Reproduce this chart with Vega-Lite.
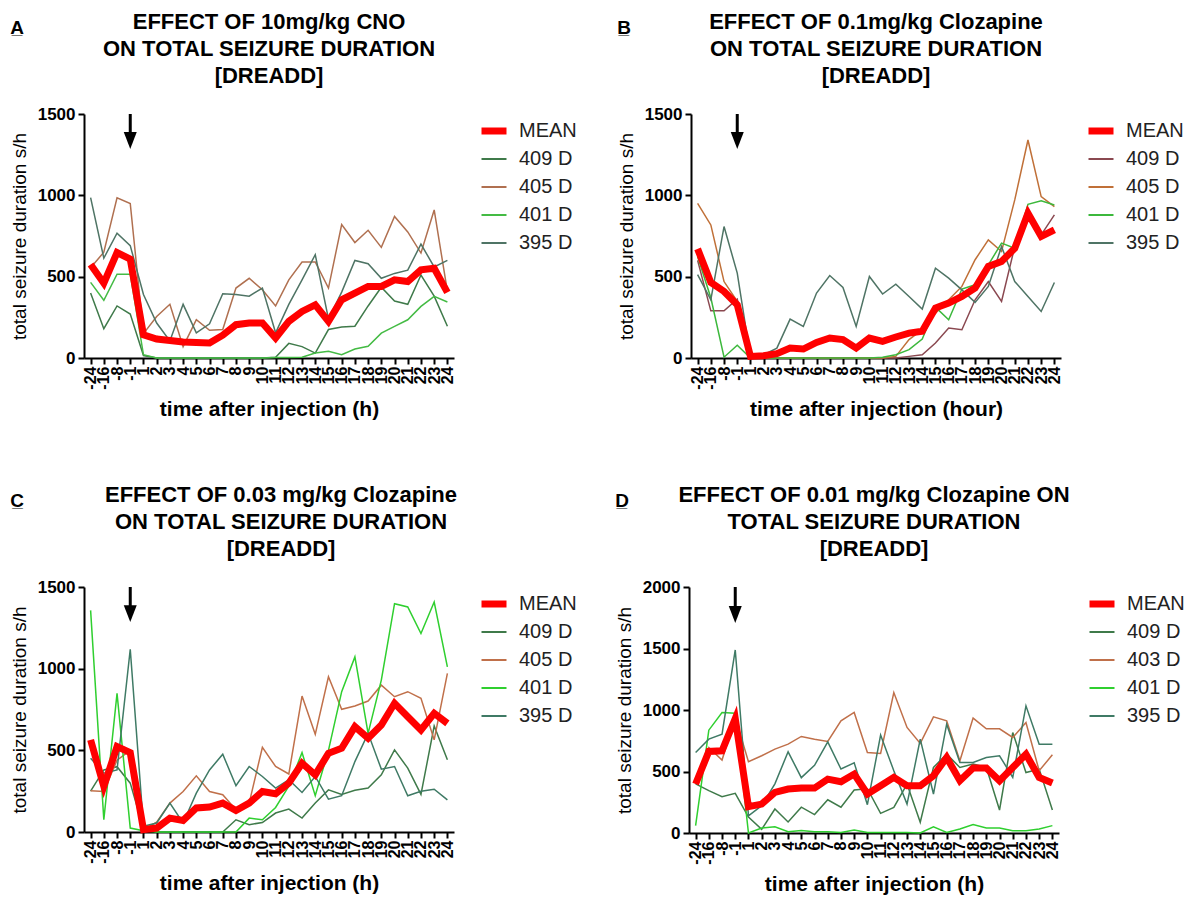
{
"$schema": "https://vega.github.io/schema/vega-lite/v6.json",
"background": "white",
"padding": {"left": 10, "top": 11, "right": 0, "bottom": 5},
"datasets": {
"A": [
{"t":"-24","s":"MEAN","v":575},{"t":"-16","s":"MEAN","v":460},{"t":"-8","s":"MEAN","v":648},{"t":"-1","s":"MEAN","v":608},{"t":"1","s":"MEAN","v":143},{"t":"2","s":"MEAN","v":117},{"t":"3","s":"MEAN","v":108},{"t":"4","s":"MEAN","v":98},{"t":"5","s":"MEAN","v":96},{"t":"6","s":"MEAN","v":92},{"t":"7","s":"MEAN","v":140},{"t":"8","s":"MEAN","v":205},{"t":"9","s":"MEAN","v":215},{"t":"10","s":"MEAN","v":215},{"t":"11","s":"MEAN","v":123},{"t":"12","s":"MEAN","v":225},{"t":"13","s":"MEAN","v":286},{"t":"14","s":"MEAN","v":327},{"t":"15","s":"MEAN","v":225},{"t":"16","s":"MEAN","v":358},{"t":"17","s":"MEAN","v":399},{"t":"18","s":"MEAN","v":440},{"t":"19","s":"MEAN","v":440},{"t":"20","s":"MEAN","v":481},{"t":"21","s":"MEAN","v":470},{"t":"22","s":"MEAN","v":542},{"t":"23","s":"MEAN","v":552},{"t":"24","s":"MEAN","v":403},
{"t":"-24","s":"409 D","v":400},{"t":"-16","s":"409 D","v":180},{"t":"-8","s":"409 D","v":320},{"t":"-1","s":"409 D","v":270},{"t":"1","s":"409 D","v":15},{"t":"2","s":"409 D","v":0},{"t":"3","s":"409 D","v":0},{"t":"4","s":"409 D","v":0},{"t":"5","s":"409 D","v":0},{"t":"6","s":"409 D","v":0},{"t":"7","s":"409 D","v":0},{"t":"8","s":"409 D","v":0},{"t":"9","s":"409 D","v":0},{"t":"10","s":"409 D","v":0},{"t":"11","s":"409 D","v":5},{"t":"12","s":"409 D","v":90},{"t":"13","s":"409 D","v":70},{"t":"14","s":"409 D","v":30},{"t":"15","s":"409 D","v":175},{"t":"16","s":"409 D","v":190},{"t":"17","s":"409 D","v":195},{"t":"18","s":"409 D","v":320},{"t":"19","s":"409 D","v":435},{"t":"20","s":"409 D","v":350},{"t":"21","s":"409 D","v":330},{"t":"22","s":"409 D","v":510},{"t":"23","s":"409 D","v":380},{"t":"24","s":"409 D","v":195},
{"t":"-24","s":"405 D","v":555},{"t":"-16","s":"405 D","v":650},{"t":"-8","s":"405 D","v":985},{"t":"-1","s":"405 D","v":950},{"t":"1","s":"405 D","v":150},{"t":"2","s":"405 D","v":255},{"t":"3","s":"405 D","v":330},{"t":"4","s":"405 D","v":70},{"t":"5","s":"405 D","v":235},{"t":"6","s":"405 D","v":170},{"t":"7","s":"405 D","v":175},{"t":"8","s":"405 D","v":430},{"t":"9","s":"405 D","v":490},{"t":"10","s":"405 D","v":420},{"t":"11","s":"405 D","v":320},{"t":"12","s":"405 D","v":480},{"t":"13","s":"405 D","v":590},{"t":"14","s":"405 D","v":590},{"t":"15","s":"405 D","v":430},{"t":"16","s":"405 D","v":820},{"t":"17","s":"405 D","v":710},{"t":"18","s":"405 D","v":785},{"t":"19","s":"405 D","v":680},{"t":"20","s":"405 D","v":870},{"t":"21","s":"405 D","v":775},{"t":"22","s":"405 D","v":645},{"t":"23","s":"405 D","v":910},{"t":"24","s":"405 D","v":410},
{"t":"-24","s":"401 D","v":465},{"t":"-16","s":"401 D","v":355},{"t":"-8","s":"401 D","v":515},{"t":"-1","s":"401 D","v":515},{"t":"1","s":"401 D","v":20},{"t":"2","s":"401 D","v":0},{"t":"3","s":"401 D","v":0},{"t":"4","s":"401 D","v":0},{"t":"5","s":"401 D","v":0},{"t":"6","s":"401 D","v":0},{"t":"7","s":"401 D","v":0},{"t":"8","s":"401 D","v":0},{"t":"9","s":"401 D","v":0},{"t":"10","s":"401 D","v":0},{"t":"11","s":"401 D","v":3},{"t":"12","s":"401 D","v":3},{"t":"13","s":"401 D","v":5},{"t":"14","s":"401 D","v":31},{"t":"15","s":"401 D","v":41},{"t":"16","s":"401 D","v":20},{"t":"17","s":"401 D","v":55},{"t":"18","s":"401 D","v":72},{"t":"19","s":"401 D","v":153},{"t":"20","s":"401 D","v":194},{"t":"21","s":"401 D","v":235},{"t":"22","s":"401 D","v":317},{"t":"23","s":"401 D","v":379},{"t":"24","s":"401 D","v":344},
{"t":"-24","s":"395 D","v":986},{"t":"-16","s":"395 D","v":614},{"t":"-8","s":"395 D","v":767},{"t":"-1","s":"395 D","v":691},{"t":"1","s":"395 D","v":390},{"t":"2","s":"395 D","v":215},{"t":"3","s":"395 D","v":105},{"t":"4","s":"395 D","v":330},{"t":"5","s":"395 D","v":155},{"t":"6","s":"395 D","v":210},{"t":"7","s":"395 D","v":395},{"t":"8","s":"395 D","v":390},{"t":"9","s":"395 D","v":380},{"t":"10","s":"395 D","v":430},{"t":"11","s":"395 D","v":155},{"t":"12","s":"395 D","v":330},{"t":"13","s":"395 D","v":480},{"t":"14","s":"395 D","v":635},{"t":"15","s":"395 D","v":240},{"t":"16","s":"395 D","v":405},{"t":"17","s":"395 D","v":600},{"t":"18","s":"395 D","v":580},{"t":"19","s":"395 D","v":490},{"t":"20","s":"395 D","v":520},{"t":"21","s":"395 D","v":540},{"t":"22","s":"395 D","v":700},{"t":"23","s":"395 D","v":560},{"t":"24","s":"395 D","v":600}
],
"B": [
{"t":"-24","s":"MEAN","v":671},{"t":"-16","s":"MEAN","v":464},{"t":"-8","s":"MEAN","v":409},{"t":"-1","s":"MEAN","v":327},{"t":"1","s":"MEAN","v":10},{"t":"2","s":"MEAN","v":14},{"t":"3","s":"MEAN","v":27},{"t":"4","s":"MEAN","v":61},{"t":"5","s":"MEAN","v":55},{"t":"6","s":"MEAN","v":96},{"t":"7","s":"MEAN","v":123},{"t":"8","s":"MEAN","v":113},{"t":"9","s":"MEAN","v":61},{"t":"10","s":"MEAN","v":123},{"t":"11","s":"MEAN","v":102},{"t":"12","s":"MEAN","v":129},{"t":"13","s":"MEAN","v":153},{"t":"14","s":"MEAN","v":164},{"t":"15","s":"MEAN","v":307},{"t":"16","s":"MEAN","v":338},{"t":"17","s":"MEAN","v":378},{"t":"18","s":"MEAN","v":430},{"t":"19","s":"MEAN","v":563},{"t":"20","s":"MEAN","v":593},{"t":"21","s":"MEAN","v":675},{"t":"22","s":"MEAN","v":890},{"t":"23","s":"MEAN","v":747},{"t":"24","s":"MEAN","v":788},
{"t":"-24","s":"409 D","v":600},{"t":"-16","s":"409 D","v":290},{"t":"-8","s":"409 D","v":290},{"t":"-1","s":"409 D","v":362},{"t":"1","s":"409 D","v":0},{"t":"2","s":"409 D","v":0},{"t":"3","s":"409 D","v":0},{"t":"4","s":"409 D","v":0},{"t":"5","s":"409 D","v":0},{"t":"6","s":"409 D","v":0},{"t":"7","s":"409 D","v":0},{"t":"8","s":"409 D","v":0},{"t":"9","s":"409 D","v":0},{"t":"10","s":"409 D","v":0},{"t":"11","s":"409 D","v":0},{"t":"12","s":"409 D","v":0},{"t":"13","s":"409 D","v":10},{"t":"14","s":"409 D","v":20},{"t":"15","s":"409 D","v":92},{"t":"16","s":"409 D","v":184},{"t":"17","s":"409 D","v":174},{"t":"18","s":"409 D","v":358},{"t":"19","s":"409 D","v":470},{"t":"20","s":"409 D","v":348},{"t":"21","s":"409 D","v":685},{"t":"22","s":"409 D","v":910},{"t":"23","s":"409 D","v":757},{"t":"24","s":"409 D","v":880},
{"t":"-24","s":"405 D","v":951},{"t":"-16","s":"405 D","v":818},{"t":"-8","s":"405 D","v":470},{"t":"-1","s":"405 D","v":348},{"t":"1","s":"405 D","v":10},{"t":"2","s":"405 D","v":0},{"t":"3","s":"405 D","v":0},{"t":"4","s":"405 D","v":0},{"t":"5","s":"405 D","v":0},{"t":"6","s":"405 D","v":0},{"t":"7","s":"405 D","v":0},{"t":"8","s":"405 D","v":0},{"t":"9","s":"405 D","v":0},{"t":"10","s":"405 D","v":0},{"t":"11","s":"405 D","v":0},{"t":"12","s":"405 D","v":10},{"t":"13","s":"405 D","v":113},{"t":"14","s":"405 D","v":174},{"t":"15","s":"405 D","v":276},{"t":"16","s":"405 D","v":358},{"t":"17","s":"405 D","v":440},{"t":"18","s":"405 D","v":604},{"t":"19","s":"405 D","v":726},{"t":"20","s":"405 D","v":655},{"t":"21","s":"405 D","v":972},{"t":"22","s":"405 D","v":1340},{"t":"23","s":"405 D","v":992},{"t":"24","s":"405 D","v":930},
{"t":"-24","s":"401 D","v":624},{"t":"-16","s":"401 D","v":370},{"t":"-8","s":"401 D","v":5},{"t":"-1","s":"401 D","v":78},{"t":"1","s":"401 D","v":0},{"t":"2","s":"401 D","v":0},{"t":"3","s":"401 D","v":0},{"t":"4","s":"401 D","v":0},{"t":"5","s":"401 D","v":0},{"t":"6","s":"401 D","v":0},{"t":"7","s":"401 D","v":0},{"t":"8","s":"401 D","v":0},{"t":"9","s":"401 D","v":0},{"t":"10","s":"401 D","v":0},{"t":"11","s":"401 D","v":4},{"t":"12","s":"401 D","v":20},{"t":"13","s":"401 D","v":51},{"t":"14","s":"401 D","v":117},{"t":"15","s":"401 D","v":313},{"t":"16","s":"401 D","v":235},{"t":"17","s":"401 D","v":424},{"t":"18","s":"401 D","v":450},{"t":"19","s":"401 D","v":573},{"t":"20","s":"401 D","v":706},{"t":"21","s":"401 D","v":675},{"t":"22","s":"401 D","v":945},{"t":"23","s":"401 D","v":966},{"t":"24","s":"401 D","v":941},
{"t":"-24","s":"395 D","v":512},{"t":"-16","s":"395 D","v":358},{"t":"-8","s":"395 D","v":808},{"t":"-1","s":"395 D","v":522},{"t":"1","s":"395 D","v":4},{"t":"2","s":"395 D","v":20},{"t":"3","s":"395 D","v":61},{"t":"4","s":"395 D","v":239},{"t":"5","s":"395 D","v":194},{"t":"6","s":"395 D","v":399},{"t":"7","s":"395 D","v":507},{"t":"8","s":"395 D","v":434},{"t":"9","s":"395 D","v":194},{"t":"10","s":"395 D","v":501},{"t":"11","s":"395 D","v":393},{"t":"12","s":"395 D","v":454},{"t":"13","s":"395 D","v":378},{"t":"14","s":"395 D","v":301},{"t":"15","s":"395 D","v":552},{"t":"16","s":"395 D","v":491},{"t":"17","s":"395 D","v":419},{"t":"18","s":"395 D","v":342},{"t":"19","s":"395 D","v":440},{"t":"20","s":"395 D","v":685},{"t":"21","s":"395 D","v":470},{"t":"22","s":"395 D","v":378},{"t":"23","s":"395 D","v":286},{"t":"24","s":"395 D","v":464}
],
"C": [
{"t":"-24","s":"MEAN","v":564},{"t":"-16","s":"MEAN","v":279},{"t":"-8","s":"MEAN","v":523},{"t":"-1","s":"MEAN","v":486},{"t":"1","s":"MEAN","v":14},{"t":"2","s":"MEAN","v":24},{"t":"3","s":"MEAN","v":85},{"t":"4","s":"MEAN","v":71},{"t":"5","s":"MEAN","v":147},{"t":"6","s":"MEAN","v":153},{"t":"7","s":"MEAN","v":177},{"t":"8","s":"MEAN","v":132},{"t":"9","s":"MEAN","v":177},{"t":"10","s":"MEAN","v":248},{"t":"11","s":"MEAN","v":234},{"t":"12","s":"MEAN","v":299},{"t":"13","s":"MEAN","v":421},{"t":"14","s":"MEAN","v":350},{"t":"15","s":"MEAN","v":482},{"t":"16","s":"MEAN","v":513},{"t":"17","s":"MEAN","v":645},{"t":"18","s":"MEAN","v":574},{"t":"19","s":"MEAN","v":655},{"t":"20","s":"MEAN","v":788},{"t":"21","s":"MEAN","v":706},{"t":"22","s":"MEAN","v":625},{"t":"23","s":"MEAN","v":727},{"t":"24","s":"MEAN","v":665},
{"t":"-24","s":"409 D","v":250},{"t":"-16","s":"409 D","v":380},{"t":"-8","s":"409 D","v":400},{"t":"-1","s":"409 D","v":299},{"t":"1","s":"409 D","v":20},{"t":"2","s":"409 D","v":0},{"t":"3","s":"409 D","v":0},{"t":"4","s":"409 D","v":0},{"t":"5","s":"409 D","v":0},{"t":"6","s":"409 D","v":0},{"t":"7","s":"409 D","v":0},{"t":"8","s":"409 D","v":75},{"t":"9","s":"409 D","v":45},{"t":"10","s":"409 D","v":58},{"t":"11","s":"409 D","v":116},{"t":"12","s":"409 D","v":140},{"t":"13","s":"409 D","v":85},{"t":"14","s":"409 D","v":177},{"t":"15","s":"409 D","v":258},{"t":"16","s":"409 D","v":230},{"t":"17","s":"409 D","v":255},{"t":"18","s":"409 D","v":269},{"t":"19","s":"409 D","v":350},{"t":"20","s":"409 D","v":503},{"t":"21","s":"409 D","v":391},{"t":"22","s":"409 D","v":230},{"t":"23","s":"409 D","v":649},{"t":"24","s":"409 D","v":442},
{"t":"-24","s":"405 D","v":252},{"t":"-16","s":"405 D","v":248},{"t":"-8","s":"405 D","v":440},{"t":"-1","s":"405 D","v":500},{"t":"1","s":"405 D","v":14},{"t":"2","s":"405 D","v":60},{"t":"3","s":"405 D","v":177},{"t":"4","s":"405 D","v":248},{"t":"5","s":"405 D","v":344},{"t":"6","s":"405 D","v":248},{"t":"7","s":"405 D","v":228},{"t":"8","s":"405 D","v":136},{"t":"9","s":"405 D","v":177},{"t":"10","s":"405 D","v":519},{"t":"11","s":"405 D","v":401},{"t":"12","s":"405 D","v":355},{"t":"13","s":"405 D","v":832},{"t":"14","s":"405 D","v":598},{"t":"15","s":"405 D","v":950},{"t":"16","s":"405 D","v":751},{"t":"17","s":"405 D","v":771},{"t":"18","s":"405 D","v":802},{"t":"19","s":"405 D","v":899},{"t":"20","s":"405 D","v":828},{"t":"21","s":"405 D","v":859},{"t":"22","s":"405 D","v":818},{"t":"23","s":"405 D","v":564},{"t":"24","s":"405 D","v":971},
{"t":"-24","s":"401 D","v":1357},{"t":"-16","s":"401 D","v":75},{"t":"-8","s":"401 D","v":849},{"t":"-1","s":"401 D","v":24},{"t":"1","s":"401 D","v":8},{"t":"2","s":"401 D","v":0},{"t":"3","s":"401 D","v":0},{"t":"4","s":"401 D","v":0},{"t":"5","s":"401 D","v":0},{"t":"6","s":"401 D","v":0},{"t":"7","s":"401 D","v":0},{"t":"8","s":"401 D","v":0},{"t":"9","s":"401 D","v":85},{"t":"10","s":"401 D","v":75},{"t":"11","s":"401 D","v":150},{"t":"12","s":"401 D","v":280},{"t":"13","s":"401 D","v":486},{"t":"14","s":"401 D","v":222},{"t":"15","s":"401 D","v":500},{"t":"16","s":"401 D","v":859},{"t":"17","s":"401 D","v":1072},{"t":"18","s":"401 D","v":604},{"t":"19","s":"401 D","v":930},{"t":"20","s":"401 D","v":1398},{"t":"21","s":"401 D","v":1378},{"t":"22","s":"401 D","v":1215},{"t":"23","s":"401 D","v":1408},{"t":"24","s":"401 D","v":1011},
{"t":"-24","s":"395 D","v":452},{"t":"-16","s":"395 D","v":360},{"t":"-8","s":"395 D","v":380},{"t":"-1","s":"395 D","v":1119},{"t":"1","s":"395 D","v":35},{"t":"2","s":"395 D","v":55},{"t":"3","s":"395 D","v":177},{"t":"4","s":"395 D","v":55},{"t":"5","s":"395 D","v":238},{"t":"6","s":"395 D","v":380},{"t":"7","s":"395 D","v":476},{"t":"8","s":"395 D","v":283},{"t":"9","s":"395 D","v":401},{"t":"10","s":"395 D","v":340},{"t":"11","s":"395 D","v":269},{"t":"12","s":"395 D","v":320},{"t":"13","s":"395 D","v":242},{"t":"14","s":"395 D","v":340},{"t":"15","s":"395 D","v":201},{"t":"16","s":"395 D","v":222},{"t":"17","s":"395 D","v":431},{"t":"18","s":"395 D","v":604},{"t":"19","s":"395 D","v":385},{"t":"20","s":"395 D","v":401},{"t":"21","s":"395 D","v":222},{"t":"22","s":"395 D","v":250},{"t":"23","s":"395 D","v":262},{"t":"24","s":"395 D","v":197}
],
"D": [
{"t":"-24","s":"MEAN","v":398},{"t":"-16","s":"MEAN","v":663},{"t":"-8","s":"MEAN","v":668},{"t":"-1","s":"MEAN","v":931},{"t":"1","s":"MEAN","v":214},{"t":"2","s":"MEAN","v":235},{"t":"3","s":"MEAN","v":330},{"t":"4","s":"MEAN","v":357},{"t":"5","s":"MEAN","v":365},{"t":"6","s":"MEAN","v":365},{"t":"7","s":"MEAN","v":438},{"t":"8","s":"MEAN","v":417},{"t":"9","s":"MEAN","v":479},{"t":"10","s":"MEAN","v":317},{"t":"11","s":"MEAN","v":384},{"t":"12","s":"MEAN","v":452},{"t":"13","s":"MEAN","v":384},{"t":"14","s":"MEAN","v":384},{"t":"15","s":"MEAN","v":465},{"t":"16","s":"MEAN","v":614},{"t":"17","s":"MEAN","v":425},{"t":"18","s":"MEAN","v":528},{"t":"19","s":"MEAN","v":528},{"t":"20","s":"MEAN","v":425},{"t":"21","s":"MEAN","v":533},{"t":"22","s":"MEAN","v":641},{"t":"23","s":"MEAN","v":452},{"t":"24","s":"MEAN","v":406},
{"t":"-24","s":"409 D","v":400},{"t":"-16","s":"409 D","v":344},{"t":"-8","s":"409 D","v":295},{"t":"-1","s":"409 D","v":322},{"t":"1","s":"409 D","v":130},{"t":"2","s":"409 D","v":30},{"t":"3","s":"409 D","v":195},{"t":"4","s":"409 D","v":90},{"t":"5","s":"409 D","v":210},{"t":"6","s":"409 D","v":150},{"t":"7","s":"409 D","v":270},{"t":"8","s":"409 D","v":210},{"t":"9","s":"409 D","v":350},{"t":"10","s":"409 D","v":360},{"t":"11","s":"409 D","v":160},{"t":"12","s":"409 D","v":208},{"t":"13","s":"409 D","v":398},{"t":"14","s":"409 D","v":87},{"t":"15","s":"409 D","v":533},{"t":"16","s":"409 D","v":641},{"t":"17","s":"409 D","v":533},{"t":"18","s":"409 D","v":560},{"t":"19","s":"409 D","v":533},{"t":"20","s":"409 D","v":187},{"t":"21","s":"409 D","v":817},{"t":"22","s":"409 D","v":492},{"t":"23","s":"409 D","v":520},{"t":"24","s":"409 D","v":187},
{"t":"-24","s":"403 D","v":400},{"t":"-16","s":"403 D","v":695},{"t":"-8","s":"403 D","v":593},{"t":"-1","s":"403 D","v":940},{"t":"1","s":"403 D","v":579},{"t":"2","s":"403 D","v":628},{"t":"3","s":"403 D","v":682},{"t":"4","s":"403 D","v":722},{"t":"5","s":"403 D","v":785},{"t":"6","s":"403 D","v":763},{"t":"7","s":"403 D","v":744},{"t":"8","s":"403 D","v":912},{"t":"9","s":"403 D","v":980},{"t":"10","s":"403 D","v":655},{"t":"11","s":"403 D","v":647},{"t":"12","s":"403 D","v":1142},{"t":"13","s":"403 D","v":858},{"t":"14","s":"403 D","v":728},{"t":"15","s":"403 D","v":944},{"t":"16","s":"403 D","v":912},{"t":"17","s":"403 D","v":587},{"t":"18","s":"403 D","v":934},{"t":"19","s":"403 D","v":847},{"t":"20","s":"403 D","v":847},{"t":"21","s":"403 D","v":777},{"t":"22","s":"403 D","v":898},{"t":"23","s":"403 D","v":506},{"t":"24","s":"403 D","v":636},
{"t":"-24","s":"401 D","v":60},{"t":"-16","s":"401 D","v":836},{"t":"-8","s":"401 D","v":980},{"t":"-1","s":"401 D","v":974},{"t":"1","s":"401 D","v":0},{"t":"2","s":"401 D","v":40},{"t":"3","s":"401 D","v":50},{"t":"4","s":"401 D","v":10},{"t":"5","s":"401 D","v":20},{"t":"6","s":"401 D","v":10},{"t":"7","s":"401 D","v":10},{"t":"8","s":"401 D","v":5},{"t":"9","s":"401 D","v":25},{"t":"10","s":"401 D","v":5},{"t":"11","s":"401 D","v":5},{"t":"12","s":"401 D","v":5},{"t":"13","s":"401 D","v":5},{"t":"14","s":"401 D","v":0},{"t":"15","s":"401 D","v":51},{"t":"16","s":"401 D","v":5},{"t":"17","s":"401 D","v":32},{"t":"18","s":"401 D","v":68},{"t":"19","s":"401 D","v":41},{"t":"20","s":"401 D","v":41},{"t":"21","s":"401 D","v":19},{"t":"22","s":"401 D","v":19},{"t":"23","s":"401 D","v":32},{"t":"24","s":"401 D","v":60},
{"t":"-24","s":"395 D","v":655},{"t":"-16","s":"395 D","v":763},{"t":"-8","s":"395 D","v":804},{"t":"-1","s":"395 D","v":1488},{"t":"1","s":"395 D","v":140},{"t":"2","s":"395 D","v":222},{"t":"3","s":"395 D","v":400},{"t":"4","s":"395 D","v":660},{"t":"5","s":"395 D","v":450},{"t":"6","s":"395 D","v":550},{"t":"7","s":"395 D","v":740},{"t":"8","s":"395 D","v":520},{"t":"9","s":"395 D","v":570},{"t":"10","s":"395 D","v":230},{"t":"11","s":"395 D","v":796},{"t":"12","s":"395 D","v":506},{"t":"13","s":"395 D","v":235},{"t":"14","s":"395 D","v":763},{"t":"15","s":"395 D","v":317},{"t":"16","s":"395 D","v":885},{"t":"17","s":"395 D","v":574},{"t":"18","s":"395 D","v":574},{"t":"19","s":"395 D","v":614},{"t":"20","s":"395 D","v":628},{"t":"21","s":"395 D","v":452},{"t":"22","s":"395 D","v":1034},{"t":"23","s":"395 D","v":722},{"t":"24","s":"395 D","v":722}
]
},
"spacing": 64,
"resolve": {"scale": {"color": "independent"}, "legend": {"color": "independent"}},
"vconcat": [
{"hconcat": [
{"title": {"text": "A\u0332", "anchor": "start", "frame": "bounds", "fontSize": 19, "offset": 0, "dy": 27},
 "vconcat": [{
  "width": 370, "height": 244,
  "title": {"text": ["EFFECT OF 10mg/kg CNO", "ON TOTAL SEIZURE DURATION", "[DREADD]"], "anchor": "middle", "frame": "group", "offset": 17},
  "data": {"name": "A"},
  "encoding": {
   "x": {"field": "t", "type": "ordinal", "scale": {"type": "point", "padding": 0.5, "domain": ["-24","-16","-8","-1","1","2","3","4","5","6","7","8","9","10","11","12","13","14","15","16","17","18","19","20","21","22","23","24"]}, "axis": {"title": "time after injection (h)"}},
   "y": {"field": "v", "type": "quantitative", "scale": {"domain": [0, 1500], "nice": false}, "axis": {"values": [0, 500, 1000, 1500], "format": "d", "title": "total seizure duration s/h"}}
  },
  "layer": [
   {"transform": [{"filter": "datum.s !== 'MEAN'"}], "mark": {"type": "line", "strokeWidth": 1.5}, "encoding": {"color": {"field": "s", "type": "nominal", "scale": {"domain": ["MEAN","409 D","405 D","401 D","395 D"], "range": ["#ff0000","#3f7a4a","#b07050","#44bb44","#4f7465"]}, "legend": {"title": null, "encode": {"symbols": {"update": {"strokeWidth": {"signal": "datum.value === 'MEAN' ? 7 : 2"}, "strokeJoin": {"value": "round"}}}}}}}},
   {"transform": [{"filter": "datum.s === 'MEAN'"}], "mark": {"type": "line", "strokeWidth": 7}, "encoding": {"color": {"field": "s", "type": "nominal", "scale": {"domain": ["MEAN","409 D","405 D","401 D","395 D"], "range": ["#ff0000","#3f7a4a","#b07050","#44bb44","#4f7465"]}, "legend": {"title": null, "encode": {"symbols": {"update": {"strokeWidth": {"signal": "datum.value === 'MEAN' ? 7 : 2"}, "strokeJoin": {"value": "round"}}}}}}}},
   {"data": {"values": [{"t": "-1", "v": 1500, "v2": 1383}]}, "mark": {"type": "rule", "color": "black", "strokeWidth": 3}, "encoding": {"y2": {"field": "v2"}}},
   {"data": {"values": [{"t": "-1", "v": 1337}]}, "mark": {"type": "point", "shape": "M-1,-1.3L1,-1.3L0,1.3Z", "filled": true, "color": "black", "size": 169, "opacity": 1, "strokeWidth": 0}, "encoding": {}}
  ]
 }]
},
{"title": {"text": "B\u0332", "anchor": "start", "frame": "bounds", "fontSize": 19, "offset": 0, "dy": 27},
 "vconcat": [{
  "width": 370, "height": 244,
  "title": {"text": ["EFFECT OF 0.1mg/kg Clozapine", "ON  TOTAL SEIZURE DURATION", "[DREADD]"], "anchor": "middle", "frame": "group", "offset": 17},
  "data": {"name": "B"},
  "encoding": {
   "x": {"field": "t", "type": "ordinal", "scale": {"type": "point", "padding": 0.5, "domain": ["-24","-16","-8","-1","1","2","3","4","5","6","7","8","9","10","11","12","13","14","15","16","17","18","19","20","21","22","23","24"]}, "axis": {"title": "time after injection (hour)"}},
   "y": {"field": "v", "type": "quantitative", "scale": {"domain": [0, 1500], "nice": false}, "axis": {"values": [0, 500, 1000, 1500], "format": "d", "title": "total seizure duration s/h"}}
  },
  "layer": [
   {"transform": [{"filter": "datum.s !== 'MEAN'"}], "mark": {"type": "line", "strokeWidth": 1.5}, "encoding": {"color": {"field": "s", "type": "nominal", "scale": {"domain": ["MEAN","409 D","405 D","401 D","395 D"], "range": ["#ff0000","#8a4850","#c07038","#3cb83c","#4f7465"]}, "legend": {"title": null, "encode": {"symbols": {"update": {"strokeWidth": {"signal": "datum.value === 'MEAN' ? 7 : 2"}, "strokeJoin": {"value": "round"}}}}}}}},
   {"transform": [{"filter": "datum.s === 'MEAN'"}], "mark": {"type": "line", "strokeWidth": 7}, "encoding": {"color": {"field": "s", "type": "nominal", "scale": {"domain": ["MEAN","409 D","405 D","401 D","395 D"], "range": ["#ff0000","#8a4850","#c07038","#3cb83c","#4f7465"]}, "legend": {"title": null, "encode": {"symbols": {"update": {"strokeWidth": {"signal": "datum.value === 'MEAN' ? 7 : 2"}, "strokeJoin": {"value": "round"}}}}}}}},
   {"data": {"values": [{"t": "-1", "v": 1500, "v2": 1383}]}, "mark": {"type": "rule", "color": "black", "strokeWidth": 3}, "encoding": {"y2": {"field": "v2"}}},
   {"data": {"values": [{"t": "-1", "v": 1337}]}, "mark": {"type": "point", "shape": "M-1,-1.3L1,-1.3L0,1.3Z", "filled": true, "color": "black", "size": 169, "opacity": 1, "strokeWidth": 0}, "encoding": {}}
  ]
 }]
}
], "spacing": 33, "resolve": {"scale": {"color": "independent"}, "legend": {"color": "independent"}}},
{"hconcat": [
{"title": {"text": "C\u0332", "anchor": "start", "frame": "bounds", "fontSize": 19, "offset": 0, "dy": 27},
 "vconcat": [{
  "width": 370, "height": 245,
  "title": {"text": ["EFFECT OF 0.03 mg/kg Clozapine", " ON TOTAL SEIZURE DURATION", "[DREADD]"], "anchor": "middle", "frame": "group", "offset": 17, "dx": 12},
  "data": {"name": "C"},
  "encoding": {
   "x": {"field": "t", "type": "ordinal", "scale": {"type": "point", "padding": 0.5, "domain": ["-24","-16","-8","-1","1","2","3","4","5","6","7","8","9","10","11","12","13","14","15","16","17","18","19","20","21","22","23","24"]}, "axis": {"title": "time after injection (h)"}},
   "y": {"field": "v", "type": "quantitative", "scale": {"domain": [0, 1500], "nice": false}, "axis": {"values": [0, 500, 1000, 1500], "format": "d", "title": "total seizure duration s/h"}}
  },
  "layer": [
   {"transform": [{"filter": "datum.s !== 'MEAN'"}], "mark": {"type": "line", "strokeWidth": 1.5}, "encoding": {"color": {"field": "s", "type": "nominal", "scale": {"domain": ["MEAN","409 D","405 D","401 D","395 D"], "range": ["#ff0000","#3f7a4a","#c0704a","#2fcf2f","#3f7a65"]}, "legend": {"title": null, "encode": {"symbols": {"update": {"strokeWidth": {"signal": "datum.value === 'MEAN' ? 7 : 2"}, "strokeJoin": {"value": "round"}}}}}}}},
   {"transform": [{"filter": "datum.s === 'MEAN'"}], "mark": {"type": "line", "strokeWidth": 7}, "encoding": {"color": {"field": "s", "type": "nominal", "scale": {"domain": ["MEAN","409 D","405 D","401 D","395 D"], "range": ["#ff0000","#3f7a4a","#c0704a","#2fcf2f","#3f7a65"]}, "legend": {"title": null, "encode": {"symbols": {"update": {"strokeWidth": {"signal": "datum.value === 'MEAN' ? 7 : 2"}, "strokeJoin": {"value": "round"}}}}}}}},
   {"data": {"values": [{"t": "-1", "v": 1500, "v2": 1383}]}, "mark": {"type": "rule", "color": "black", "strokeWidth": 3}, "encoding": {"y2": {"field": "v2"}}},
   {"data": {"values": [{"t": "-1", "v": 1337}]}, "mark": {"type": "point", "shape": "M-1,-1.3L1,-1.3L0,1.3Z", "filled": true, "color": "black", "size": 169, "opacity": 1, "strokeWidth": 0}, "encoding": {}}
  ]
 }]
},
{"title": {"text": "D\u0332", "anchor": "start", "frame": "bounds", "fontSize": 19, "offset": 0, "dy": 27},
 "vconcat": [{
  "width": 370, "height": 246,
  "title": {"text": ["EFFECT OF 0.01 mg/kg Clozapine ON", "TOTAL SEIZURE DURATION", "[DREADD]"], "anchor": "middle", "frame": "group", "offset": 17},
  "data": {"name": "D"},
  "encoding": {
   "x": {"field": "t", "type": "ordinal", "scale": {"type": "point", "padding": 0.5, "domain": ["-24","-16","-8","-1","1","2","3","4","5","6","7","8","9","10","11","12","13","14","15","16","17","18","19","20","21","22","23","24"]}, "axis": {"title": "time after injection (h)"}},
   "y": {"field": "v", "type": "quantitative", "scale": {"domain": [0, 2000], "nice": false}, "axis": {"values": [0, 500, 1000, 1500, 2000], "format": "d", "title": "total seizure duration s/h"}}
  },
  "layer": [
   {"transform": [{"filter": "datum.s !== 'MEAN'"}], "mark": {"type": "line", "strokeWidth": 1.5}, "encoding": {"color": {"field": "s", "type": "nominal", "scale": {"domain": ["MEAN","409 D","403 D","401 D","395 D"], "range": ["#ff0000","#3f7a4a","#c0704a","#2fcf2f","#3f7a65"]}, "legend": {"title": null, "encode": {"symbols": {"update": {"strokeWidth": {"signal": "datum.value === 'MEAN' ? 7 : 2"}, "strokeJoin": {"value": "round"}}}}}}}},
   {"transform": [{"filter": "datum.s === 'MEAN'"}], "mark": {"type": "line", "strokeWidth": 7}, "encoding": {"color": {"field": "s", "type": "nominal", "scale": {"domain": ["MEAN","409 D","403 D","401 D","395 D"], "range": ["#ff0000","#3f7a4a","#c0704a","#2fcf2f","#3f7a65"]}, "legend": {"title": null, "encode": {"symbols": {"update": {"strokeWidth": {"signal": "datum.value === 'MEAN' ? 7 : 2"}, "strokeJoin": {"value": "round"}}}}}}}},
   {"data": {"values": [{"t": "-1", "v": 2000, "v2": 1845}]}, "mark": {"type": "rule", "color": "black", "strokeWidth": 3}, "encoding": {"y2": {"field": "v2"}}},
   {"data": {"values": [{"t": "-1", "v": 1776}]}, "mark": {"type": "point", "shape": "M-1,-1.3L1,-1.3L0,1.3Z", "filled": true, "color": "black", "size": 169, "opacity": 1, "strokeWidth": 0}, "encoding": {}}
  ]
 }]
}
], "spacing": 31, "resolve": {"scale": {"color": "independent"}, "legend": {"color": "independent"}}}
],
"config": {
 "font": "Liberation Sans",
 "view": {"stroke": null},
 "axis": {"domainColor": "black", "domainWidth": 2, "tickColor": "black", "tickWidth": 2, "tickSize": 6, "labelColor": "black", "labelFontWeight": "bold", "titleColor": "black", "grid": false, "labelFont": "Liberation Sans", "titleFont": "Liberation Sans"},
 "axisX": {"labelAngle": 270, "labelFontSize": 16, "labelOverlap": false, "labelPadding": 2, "titleFontSize": 21, "titleFontWeight": "bold", "titlePadding": 9},
 "axisY": {"labelFontSize": 17, "labelPadding": 3, "titleFontSize": 19, "titleFontWeight": "normal", "titlePadding": 8},
 "legend": {"orient": "right", "offset": 15, "labelFontSize": 20, "labelFont": "Liberation Sans", "labelColor": "#222", "symbolType": "stroke", "symbolSize": 625, "symbolStrokeWidth": 2, "rowPadding": 8, "labelOffset": 15, "padding": 7},
 "title": {"font": "Liberation Sans", "fontSize": 22, "fontWeight": "bold", "color": "black", "lineHeight": 27}
}
}
